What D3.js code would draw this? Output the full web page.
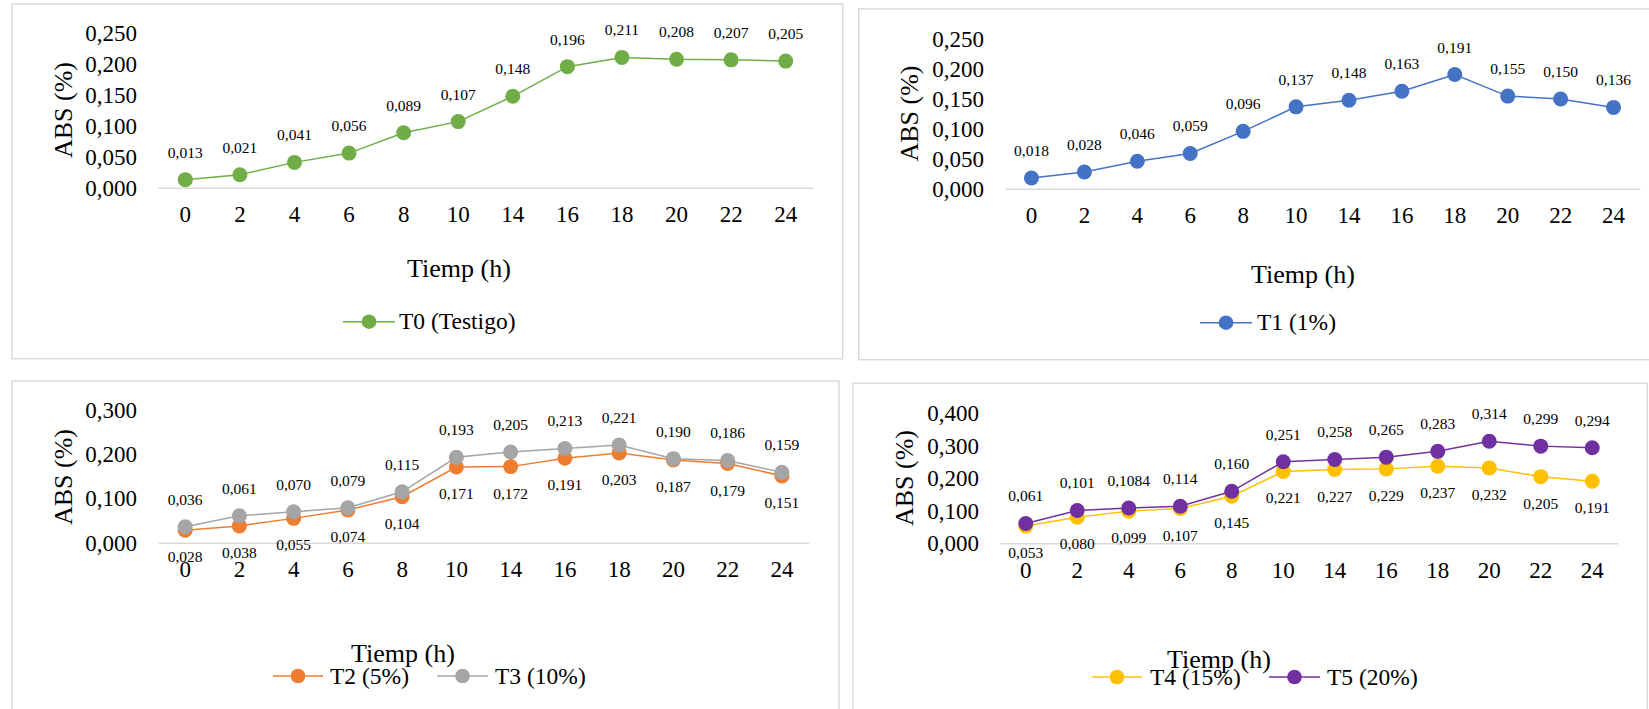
<!DOCTYPE html>
<html>
<head>
<meta charset="utf-8">
<script src="https://cdn.jsdelivr.net/npm/d3@7"></script>
<style>
  html, body { margin: 0; padding: 0; background: #fff; }
  svg { display: block; }
  text { font-family: "Liberation Serif", "Times New Roman", serif; fill: #000; }
</style>
</head>
<body>
<svg id="chart" width="1649" height="709"></svg>
<script>
// ---------- DATA ----------
const hours = ["0", "2", "4", "6", "8", "10", "14", "16", "18", "20", "22", "24"];

const t0 = [0.013, 0.021, 0.041, 0.056, 0.089, 0.107, 0.148, 0.196, 0.211, 0.208, 0.207, 0.205];
const t1 = [0.018, 0.028, 0.046, 0.059, 0.096, 0.137, 0.148, 0.163, 0.191, 0.155, 0.150, 0.136];
const t2 = [0.028, 0.038, 0.055, 0.074, 0.104, 0.171, 0.172, 0.191, 0.203, 0.187, 0.179, 0.151];
const t3 = [0.036, 0.061, 0.070, 0.079, 0.115, 0.193, 0.205, 0.213, 0.221, 0.190, 0.186, 0.159];
const t4 = [0.053, 0.080, 0.099, 0.107, 0.145, 0.221, 0.227, 0.229, 0.237, 0.232, 0.205, 0.191];
const t5 = [0.061, 0.101, 0.1084, 0.114, 0.160, 0.251, 0.258, 0.265, 0.283, 0.314, 0.299, 0.294];

const seriesNames = ["T0 (Testigo)", "T1 (1%)", "T2 (5%)", "T3 (10%)", "T4 (15%)", "T5 (20%)"];

const yTicksA = [0, 0.05, 0.10, 0.15, 0.20, 0.25];
const yTicksB = [0, 0.1, 0.2, 0.3];
const yTicksC = [0, 0.1, 0.2, 0.3, 0.4];

const xTitle = "Tiemp (h)";
const yTitle = "ABS (%)";

// ---------- STYLE ----------
const colors = {
  t0: "#70AD47", t1: "#4472C4", t2: "#ED7D31", t3: "#A5A5A5", t4: "#FFC000", t5: "#7030A0"
};
const GRID = "#d9d9d9";

const locale = d3.formatLocale({decimal: ",", thousands: ".", grouping: [3], currency: ["", ""]});
const tickFmt = locale.format(".3f");
function labelFmt(v) {
  let s = v.toFixed(4);
  if (s.endsWith("0")) s = s.slice(0, -1);
  return s.replace(".", ",");
}

const svg = d3.select("#chart");

// panel borders
const borders = [
  {x: 12, y: 4, w: 830.7, h: 354.7},
  {x: 858.7, y: 9, w: 800, h: 350.7},
  {x: 12, y: 381, w: 827, h: 340},
  {x: 853, y: 383.3, w: 794.3, h: 340}
];
svg.selectAll("rect.border").data(borders).enter().append("rect")
  .attr("class", "border")
  .attr("x", d => d.x).attr("y", d => d.y)
  .attr("width", d => d.w).attr("height", d => d.h)
  .attr("fill", "none").attr("stroke", GRID).attr("stroke-width", 1.5);

function drawPanel(cfg) {
  const g = svg.append("g");
  const x = d3.scaleBand().domain(hours).range([cfg.x0, cfg.x1]);
  const y = d3.scaleLinear().domain([0, cfg.yMax]).range([cfg.yAxis, cfg.yTop]);
  const cx = h => x(h) + x.bandwidth() / 2;

  // y axis labels
  const ya = g.append("g").attr("transform", `translate(${cfg.x0},0)`)
    .call(d3.axisLeft(y).tickValues(cfg.ticks).tickFormat(tickFmt).tickSize(0).tickPadding(21));
  ya.select(".domain").remove();
  ya.selectAll("text").style("font-size", "23px").style("font-family", "Liberation Serif");

  // x axis
  const xa = g.append("g").attr("transform", `translate(0,${cfg.yAxis})`)
    .call(d3.axisBottom(x).tickSize(0).tickSizeOuter(0).tickPadding(18));
  xa.select(".domain").attr("stroke", GRID).attr("stroke-width", 1.5);
  xa.selectAll("text").style("font-size", "23px").style("font-family", "Liberation Serif");

  // titles
  g.append("text")
    .attr("transform", `translate(${cfg.yTitleX},${cfg.yTitleY}) rotate(-90)`)
    .attr("text-anchor", "middle").style("font-size", "26px").text(yTitle);
  g.append("text")
    .attr("x", cfg.xTitleX).attr("y", cfg.xTitleY)
    .attr("text-anchor", "middle").style("font-size", "26px").text(xTitle);

  const line = d3.line().x((d, i) => cx(hours[i])).y(d => y(d));

  cfg.series.forEach(s => {
    g.append("path").datum(s.values)
      .attr("d", line).attr("fill", "none")
      .attr("stroke", s.color).attr("stroke-width", 1.5);
    g.selectAll(null).data(s.values).enter().append("circle")
      .attr("cx", (d, i) => cx(hours[i])).attr("cy", d => y(d))
      .attr("r", 7.5).attr("fill", s.color);
  });
  cfg.series.forEach(s => {
    g.selectAll(null).data(s.values).enter().append("text")
      .attr("x", (d, i) => cx(hours[i]))
      .attr("y", d => s.below ? y(d) + 32 : y(d) - 22)
      .attr("text-anchor", "middle").style("font-size", "15.5px")
      .text(d => labelFmt(d));
  });

  // legend
  cfg.legend.forEach((L, k) => {
    const s = cfg.series[k];
    g.append("line").attr("x1", L.lx0).attr("x2", L.lx1)
      .attr("y1", cfg.legendY).attr("y2", cfg.legendY)
      .attr("stroke", s.color).attr("stroke-width", 1.5);
    g.append("circle").attr("cx", (L.lx0 + L.lx1) / 2).attr("cy", cfg.legendY)
      .attr("r", 7.3).attr("fill", s.color);
    g.append("text").attr("x", L.tx).attr("y", cfg.legendY + 7.5)
      .style("font-size", "23.5px").text(s.name);
  });
}

drawPanel({
  x0: 158, x1: 813, yAxis: 187.7, yTop: 33.3, yMax: 0.25, ticks: yTicksA,
  yTitleX: 72, yTitleY: 110, xTitleX: 459, xTitleY: 277, legendY: 321.7,
  series: [{values: t0, color: colors.t0, name: seriesNames[0], below: false}],
  legend: [{lx0: 343, lx1: 395, tx: 399}]
});

drawPanel({
  x0: 1005, x1: 1640, yAxis: 188.7, yTop: 39.3, yMax: 0.25, ticks: yTicksA,
  yTitleX: 918, yTitleY: 113.5, xTitleX: 1303, xTitleY: 283, legendY: 322.7,
  series: [{values: t1, color: colors.t1, name: seriesNames[1], below: false}],
  legend: [{lx0: 1200, lx1: 1252, tx: 1257}]
});

drawPanel({
  x0: 158, x1: 809, yAxis: 542.7, yTop: 410, yMax: 0.3, ticks: yTicksB,
  yTitleX: 72, yTitleY: 477, xTitleX: 403, xTitleY: 662, legendY: 676,
  series: [
    {values: t2, color: colors.t2, name: seriesNames[2], below: true},
    {values: t3, color: colors.t3, name: seriesNames[3], below: false}
  ],
  legend: [{lx0: 273, lx1: 323, tx: 330}, {lx0: 437, lx1: 488, tx: 495}]
});

drawPanel({
  x0: 1000, x1: 1618, yAxis: 543.3, yTop: 413.3, yMax: 0.4, ticks: yTicksC,
  yTitleX: 913, yTitleY: 478, xTitleX: 1219, xTitleY: 668, legendY: 677,
  series: [
    {values: t4, color: colors.t4, name: seriesNames[4], below: true},
    {values: t5, color: colors.t5, name: seriesNames[5], below: false}
  ],
  legend: [{lx0: 1092, lx1: 1142, tx: 1150}, {lx0: 1269, lx1: 1320, tx: 1327}]
});
</script>
</body>
</html>
